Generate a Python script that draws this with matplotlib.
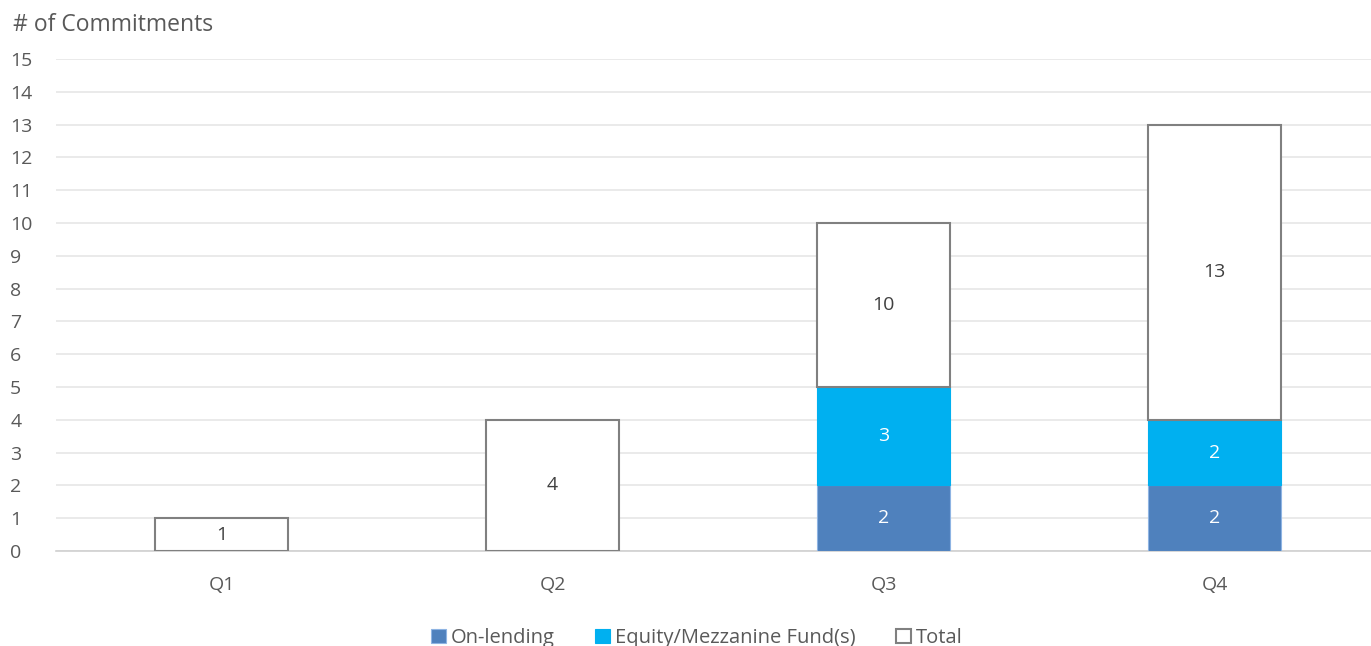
import numpy as np
import matplotlib
matplotlib.use("Agg")
import matplotlib.pyplot as plt

quarters = ["Q1", "Q2", "Q3", "Q4"]
on_lending = [0, 0, 2, 2]
equity = [0, 0, 3, 2]
total = [1, 4, 10, 13]

BLUE = "#4F81BD"
CYAN = "#00B0F0"
TEXT = "#595959"

plt.rcParams["font.family"] = ["Open Sans", "DejaVu Sans"]

fig = plt.figure(figsize=(13.71, 6.46), dpi=100)
ax = fig.add_axes([56 / 1371, 95 / 646, 1324 / 1371, 492 / 646])

x = np.arange(len(quarters))
w = 0.40
on = np.array(on_lending)
eq = np.array(equity)
tot = np.array(total)
rest = tot - on - eq

b1 = ax.bar(x, on, w, color=BLUE, edgecolor="#8EB4E3", linewidth=0.8,
            label="On-lending", zorder=3)
b2 = ax.bar(x, eq, w, bottom=on, color=CYAN, edgecolor=CYAN, linewidth=0.8,
            label="Equity/Mezzanine Fund(s)", zorder=3)
b3 = ax.bar(x, rest, w, bottom=on + eq, color="white", edgecolor="#808080",
            linewidth=1.5, label="Total", zorder=3)

for i in range(len(quarters)):
    if on[i] > 0:
        ax.text(x[i], on[i] / 2, str(on[i]), ha="center", va="center",
                color="white", fontsize=14, zorder=4)
    if eq[i] > 0:
        ax.text(x[i], on[i] + eq[i] / 2, str(eq[i]), ha="center", va="center",
                color="white", fontsize=14, zorder=4)
    ax.text(x[i], on[i] + eq[i] + rest[i] / 2, str(tot[i]), ha="center",
            va="center", color="#404040", fontsize=14, zorder=4)

ax.set_xlim(-0.5, 3.5)
ax.set_ylim(0, 15)
ax.set_yticks(range(0, 16))
ax.set_xticks(x)
ax.set_xticklabels(quarters)
ax.tick_params(axis="both", length=0, labelsize=14, colors=TEXT)
ax.tick_params(axis="x", pad=18)
ax.tick_params(axis="y", pad=33)
for lbl in ax.get_yticklabels():
    lbl.set_horizontalalignment("left")
ax.grid(axis="y", color="#E6E6E6", linewidth=1.2, zorder=0)
for s in ["top", "right", "left"]:
    ax.spines[s].set_visible(False)
ax.spines["bottom"].set_color("#D0D0D0")
ax.spines["bottom"].set_linewidth(1.2)

fig.text(13 / 1371, 1 - 25 / 646, "# of Commitments", fontsize=16.5,
         color=TEXT, ha="left", va="center")

leg = fig.legend(handles=[b1, b2, b3], loc="center", ncol=3,
                 bbox_to_anchor=(697 / 1371, 1 - 638 / 646), frameon=False,
                 fontsize=14.5, handlelength=0.75, handleheight=0.75,
                 handletextpad=0.25, columnspacing=2.0, labelcolor=TEXT)

fig.savefig("out.png", dpi=100)
